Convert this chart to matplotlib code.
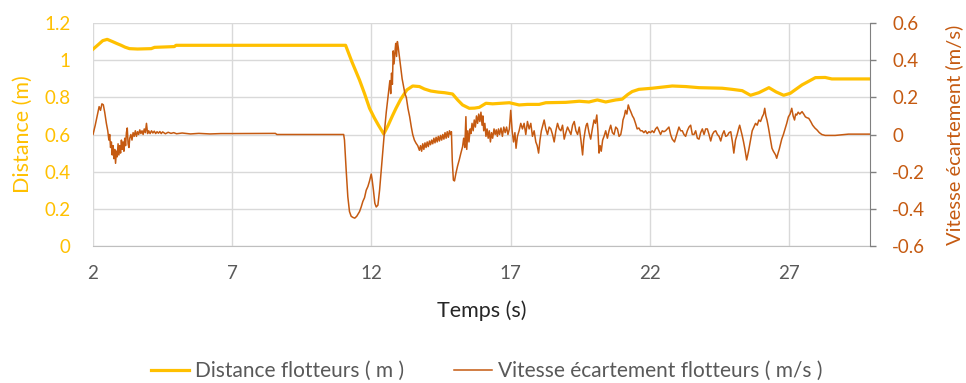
import matplotlib
matplotlib.use("Agg")
from matplotlib import pyplot as plt
from matplotlib.ticker import FuncFormatter

# distance flotteurs (m), axe de gauche
dist_t = [2.00, 2.20, 2.35, 2.51, 2.70, 2.85, 3.01, 3.15, 3.31, 3.60, 4.09, 4.21, 4.92, 4.98,
          11.07, 11.30, 11.57, 11.75, 11.93, 12.10, 12.25, 12.44, 12.60, 12.75, 12.88, 13.05,
          13.27, 13.48, 13.72, 13.90, 14.13, 14.40, 14.62, 14.91, 15.10, 15.27, 15.51, 15.70,
          15.87, 16.11, 16.35, 16.95, 17.30, 17.60, 18.02, 18.26, 18.98, 19.46, 19.81, 20.11,
          20.41, 20.77, 21.00, 21.20, 21.36, 21.60, 22.08, 22.80, 23.28, 23.76, 24.59, 24.95,
          25.31, 25.61, 25.91, 26.27, 26.53, 26.80, 27.04, 27.46, 27.94, 28.29, 28.53, 29.90]
dist_m = [1.059, 1.085, 1.105, 1.112, 1.100, 1.090, 1.080, 1.070, 1.062, 1.060, 1.062, 1.069,
          1.073, 1.080, 1.080, 0.990, 0.893, 0.820, 0.741, 0.690, 0.650, 0.603, 0.650, 0.700,
          0.741, 0.790, 0.840, 0.861, 0.858, 0.845, 0.834, 0.828, 0.825, 0.818, 0.785, 0.759,
          0.741, 0.742, 0.746, 0.768, 0.765, 0.771, 0.759, 0.762, 0.762, 0.771, 0.773, 0.779,
          0.775, 0.786, 0.775, 0.786, 0.790, 0.815, 0.831, 0.843, 0.849, 0.861, 0.858, 0.852,
          0.849, 0.843, 0.836, 0.811, 0.825, 0.852, 0.829, 0.811, 0.822, 0.867, 0.906, 0.907,
          0.899, 0.899]

# vitesse d'ecartement (m/s), axe de droite
vit_t = [2.00, 2.08, 2.15, 2.22, 2.27, 2.32, 2.37, 2.42, 2.48, 2.53, 2.57, 2.60, 2.63, 2.66,
         2.69, 2.72, 2.75, 2.78, 2.81, 2.84, 2.87, 2.90, 2.93, 2.96, 2.99, 3.02, 3.05, 3.08,
         3.11, 3.14, 3.17, 3.20, 3.23, 3.26, 3.29, 3.32, 3.36, 3.40, 3.44, 3.48, 3.52, 3.56,
         3.60, 3.64, 3.68, 3.72, 3.76, 3.80, 3.84, 3.88, 3.92, 3.96, 4.00, 4.05, 4.10, 4.15,
         4.20, 4.25, 4.30, 4.35, 4.40, 4.45, 4.50, 4.60, 4.70, 4.80, 4.90, 5.00, 5.20, 5.50,
         5.80, 6.20, 6.60, 7.00, 8.55, 8.60, 11.00,
         11.03, 11.09, 11.15, 11.21, 11.27, 11.33, 11.40, 11.47, 11.57, 11.63, 11.69, 11.75,
         11.81, 11.87, 11.93, 11.99, 12.02, 12.07, 12.12, 12.17, 12.23, 12.29, 12.35, 12.41,
         12.47, 12.53, 12.59, 12.63, 12.66, 12.69, 12.72, 12.75, 12.78, 12.81, 12.84, 12.87,
         12.90, 12.93, 12.96, 13.00, 13.05, 13.10, 13.15, 13.20, 13.25, 13.31, 13.37, 13.43,
         13.48, 13.54, 13.60, 13.66, 13.72,
         13.76, 13.80, 13.84, 13.88, 13.92, 13.96, 14.00, 14.04, 14.08, 14.12, 14.16, 14.20,
         14.24, 14.28, 14.32, 14.36, 14.40, 14.44, 14.48, 14.52, 14.56, 14.60, 14.64, 14.68,
         14.72, 14.76, 14.80, 14.84, 14.87, 14.90, 14.94, 14.98, 15.03, 15.09, 15.15, 15.21,
         15.27, 15.31, 15.35, 15.39, 15.42, 15.46, 15.50, 15.54, 15.57, 15.61, 15.65, 15.69,
         15.73, 15.77, 15.81, 15.85, 15.89, 15.93, 15.97, 16.00, 16.03, 16.07, 16.11, 16.15,
         16.19, 16.23, 16.27, 16.31, 16.35, 16.40, 16.44, 16.48, 16.52, 16.56, 16.60, 16.65,
         16.70, 16.75, 16.80, 16.85, 16.90, 16.95, 17.00, 17.05, 17.10, 17.15, 17.19, 17.24,
         17.30, 17.36, 17.42, 17.48, 17.54, 17.60, 17.66, 17.72, 17.78, 17.84, 17.90, 17.95,
         18.00, 18.05, 18.10, 18.15, 18.20, 18.26, 18.32, 18.38, 18.44, 18.50, 18.56, 18.62,
         18.68, 18.74, 18.80, 18.86, 18.92, 18.98, 19.04, 19.10, 19.16, 19.22, 19.28, 19.34,
         19.40, 19.46, 19.52, 19.58, 19.62, 19.67, 19.71, 19.75, 19.81, 19.87, 19.93, 19.99,
         20.04, 20.09, 20.13, 20.17, 20.21, 20.25, 20.30, 20.35, 20.41, 20.47, 20.53, 20.59,
         20.65, 20.71, 20.77, 20.83, 20.89, 20.95, 21.00, 21.03, 21.08, 21.12, 21.17, 21.22,
         21.26, 21.31, 21.37, 21.42, 21.48, 21.54, 21.60, 21.66, 21.72, 21.78, 21.84, 21.90,
         21.96, 22.02, 22.08, 22.14, 22.20, 22.26, 22.32, 22.38, 22.44, 22.50, 22.56, 22.62,
         22.68, 22.74, 22.80, 22.88, 22.96, 23.04, 23.10, 23.16, 23.22, 23.28, 23.34, 23.40,
         23.46, 23.52, 23.58, 23.64, 23.70, 23.76, 23.82, 23.88, 23.94, 24.00, 24.06, 24.12,
         24.18, 24.24, 24.30, 24.36, 24.42, 24.48, 24.54, 24.60, 24.66, 24.72, 24.78, 24.84,
         24.90, 24.96, 25.01, 25.07, 25.13, 25.18, 25.22, 25.27, 25.31, 25.36, 25.41, 25.47,
         25.51, 25.55, 25.61, 25.67, 25.73, 25.79, 25.85, 25.91, 25.97, 26.03, 26.08, 26.12,
         26.16, 26.20, 26.25, 26.29, 26.34, 26.38, 26.43, 26.47, 26.51, 26.55, 26.60, 26.64,
         26.69, 26.73, 26.79, 26.85, 26.91, 26.97, 27.03, 27.09, 27.14, 27.19, 27.23, 27.27,
         27.32, 27.38, 27.46, 27.52, 27.58, 27.64, 27.70, 27.77, 27.84, 27.92, 28.00, 28.08,
         28.17, 28.29, 28.65, 29.00, 29.13, 29.90]
vit_v = [0.000, 0.050, 0.100, 0.150, 0.130, 0.165, 0.160, 0.120, 0.060, 0.020, -0.030, 0.000,
         -0.070, -0.040, -0.110, -0.060, -0.130, -0.080, -0.155, -0.090, -0.120, -0.050, -0.110,
         -0.060, -0.100, -0.030, -0.080, -0.040, -0.090, -0.020, -0.060, 0.010, 0.035, -0.050,
         -0.070, -0.020, 0.000, -0.030, 0.010, -0.010, 0.020, -0.010, 0.015, 0.000, 0.025,
         0.005, 0.020, 0.000, 0.030, 0.010, 0.060, 0.005, 0.020, 0.005, 0.020, 0.008, 0.018,
         0.005, 0.015, 0.007, 0.016, 0.005, 0.014, 0.004, 0.012, 0.006, 0.010, 0.004, 0.008,
         0.003, 0.006, 0.003, 0.005, 0.005, 0.006, 0.000, 0.000,
         -0.030, -0.190, -0.335, -0.415, -0.440, -0.446, -0.450, -0.440, -0.415, -0.390, -0.360,
         -0.340, -0.300, -0.280, -0.250, -0.213, -0.240, -0.300, -0.370, -0.390, -0.380, -0.300,
         -0.190, -0.080, 0.024, 0.120, 0.200, 0.250, 0.290, 0.220, 0.330, 0.270, 0.450, 0.380,
         0.440, 0.490, 0.420, 0.500, 0.470, 0.420, 0.360, 0.300, 0.260, 0.220, 0.200, 0.140,
         0.096, 0.040, 0.000, -0.030, -0.047, -0.060, -0.085,
         -0.060, -0.090, -0.050, -0.080, -0.045, -0.070, -0.040, -0.065, -0.035, -0.055, -0.030,
         -0.050, -0.020, -0.045, -0.015, -0.040, -0.010, -0.035, -0.005, -0.030, 0.000, -0.025,
         0.010, -0.020, 0.015, -0.015, 0.020, 0.000, 0.015, -0.140, -0.245, -0.250, -0.210,
         -0.170, -0.137, -0.100, -0.066, -0.020, -0.070, 0.096, -0.080, 0.020, -0.040, 0.030,
         0.005, 0.060, 0.020, 0.078, 0.040, 0.100, 0.060, 0.110, 0.070, 0.120, 0.050, 0.100,
         0.020, 0.060, -0.010, 0.030, -0.020, 0.020, -0.040, 0.010, -0.020, 0.030, 0.000, 0.025,
         -0.010, 0.030, 0.000, 0.035, -0.010, 0.040, 0.010, 0.040, 0.000, 0.030, 0.130, 0.020,
         -0.040, 0.010, -0.074, -0.010, 0.020, 0.060, 0.030, 0.060, 0.000, 0.070, 0.030, 0.060,
         -0.010, 0.020, -0.040, -0.060, -0.100, -0.030, 0.020, 0.050, 0.078, 0.030, 0.000, 0.040,
         0.030, 0.000, -0.040, 0.020, 0.060, 0.030, 0.020, 0.050, -0.025, 0.010, 0.040, 0.020,
         0.000, 0.050, 0.070, 0.020, 0.000, 0.040, -0.030, -0.110, -0.030, 0.020, 0.050, 0.060,
         0.010, -0.025, 0.030, 0.078, 0.060, 0.105, 0.020, -0.100, -0.060, -0.090, -0.030,
         -0.010, 0.020, -0.020, 0.020, 0.050, 0.010, 0.000, 0.040, 0.030, -0.010, 0.000, 0.040,
         0.078, 0.100, 0.130, 0.110, 0.159, 0.140, 0.123, 0.100, 0.087, 0.060, 0.030, 0.035,
         0.020, 0.020, 0.010, 0.020, 0.005, 0.015, 0.010, 0.020, 0.010, 0.030, 0.040, 0.020,
         0.000, 0.020, 0.015, 0.020, 0.030, 0.040, 0.000, -0.025, -0.040, 0.000, 0.040, 0.020,
         0.020, 0.000, -0.010, 0.020, 0.040, 0.050, 0.000, 0.000, 0.020, -0.020, -0.025, 0.010,
         0.030, 0.000, 0.030, 0.030, 0.000, -0.035, 0.000, 0.015, 0.020, 0.000, -0.010, -0.035,
         0.000, 0.020, -0.010, -0.005, 0.010, 0.015, -0.040, -0.100, -0.030, 0.000, 0.030, 0.050,
         0.020, -0.005, -0.040, -0.080, -0.137, -0.110, -0.080, -0.030, 0.020, 0.040, 0.060,
         0.050, 0.078, 0.070, 0.095, 0.110, 0.141, 0.100, 0.078, 0.040, 0.005, -0.040, -0.074,
         -0.090, -0.100, -0.110, -0.128, -0.100, -0.080, -0.050, -0.025, 0.000, 0.030, 0.060,
         0.095, 0.110, 0.141, 0.100, 0.078, 0.110, 0.105, 0.120, 0.110, 0.123, 0.110, 0.095,
         0.090, 0.087, 0.070, 0.050, 0.035, 0.024, 0.010, 0.000, -0.005, -0.005, 0.000, 0.002,
         0.002]

x_ticks = [2, 7, 12, 17, 22, 27]
d_ticks = [0, 0.2, 0.4, 0.6, 0.8, 1.0, 1.2]
v_ticks = [-0.6, -0.4, -0.2, 0, 0.2, 0.4, 0.6]

jaune = "#FFC000"
brun = "#C55A11"
gris = "#595959"

plt.rcParams['font.family'] = ['Lato', 'DejaVu Sans']

fig = plt.figure(figsize=(9.66, 3.83), dpi=100)
ax = fig.add_axes([93 / 966, 137 / 383, 777 / 966, 223 / 383])
ax2 = ax.twinx()

l1, = ax.plot(dist_t, dist_m, color=jaune, lw=2.3, label="Distance flotteurs ( m )")
l2, = ax2.plot(vit_t, vit_v, color=brun, lw=1.1, label="Vitesse écartement flotteurs ( m/s )")

fmt = FuncFormatter(lambda v, p: f"{v:g}")

ax.set_xlim(2, 29.9)
ax.set_ylim(0, 1.2)
ax2.set_ylim(-0.6, 0.6)
ax.set_xticks(x_ticks)
ax.set_yticks(d_ticks)
ax2.set_yticks(v_ticks)
ax.yaxis.set_major_formatter(fmt)
ax2.yaxis.set_major_formatter(fmt)

ax.grid(True, color="#D9D9D9", lw=1.0)
ax.set_axisbelow(True)
for s in ["top", "left", "right"]:
    ax.spines[s].set_visible(False)
ax.spines["bottom"].set_color("#BFBFBF")
for s in ["top", "left", "bottom"]:
    ax2.spines[s].set_visible(False)
ax2.spines["right"].set_color("#808080")

ax.tick_params(axis="x", length=0, pad=14, labelsize=13.5, labelcolor=gris)
ax.tick_params(axis="y", length=0, pad=16, labelsize=13.5, labelcolor=jaune)
ax2.tick_params(axis="y", length=4, width=1, color="#808080", pad=12, labelsize=13.5, labelcolor=brun)

ax.set_xlabel("Temps (s)", fontsize=15.5, color="#262626")
ax.xaxis.set_label_coords(0.5, -0.245)
ax.set_ylabel("Distance (m)", fontsize=15.5, color=jaune)
ax.yaxis.set_label_coords(-0.077, 0.5)
ax2.set_ylabel("Vitesse écartement (m/s)", fontsize=14.5, color=brun, rotation=90)
ax2.yaxis.set_label_coords(1.0965, 0.5)

fig.legend(handles=[l1, l2], loc="center", bbox_to_anchor=(0.504, 0.031), ncol=2,
           frameon=False, fontsize=15, labelcolor=gris, handlelength=1.83,
           handletextpad=0.29, columnspacing=2.4)

fig.savefig("out.png", dpi=100)
